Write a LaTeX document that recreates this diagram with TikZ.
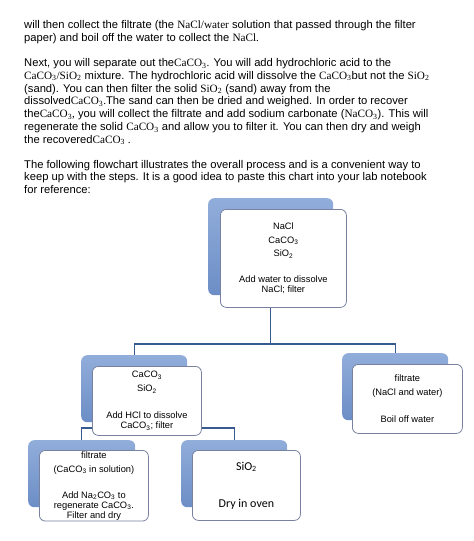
\documentclass[tikz,border=0pt]{standalone}
\usepackage{fontspec}
\setmainfont{Liberation Sans}
\newfontfamily\chemfont{Liberation Serif}
\newfontfamily\calfont{Carlito}
\usetikzlibrary{positioning,backgrounds}
\newcommand{\chm}[1]{{\chemfont #1}}

\definecolor{cardtop}{RGB}{145,173,218}
\definecolor{cardbot}{RGB}{108,142,198}
\definecolor{cardline}{RGB}{120,130,160}
\definecolor{linkblue}{RGB}{55,90,145}

\begin{document}
\begin{tikzpicture}[x=1pt,y=-1pt,
    backcard/.style = {rounded corners=6pt, top color=cardtop, bottom color=cardbot,
                       minimum width=106pt, minimum height=67pt, inner sep=0pt, anchor=north west},
    frontcard/.style = {rounded corners=6pt, draw=cardline, fill=white, line width=0.8pt,
                        minimum width=109pt, minimum height=69pt, inner sep=1pt, align=center,
                        font=\fontsize{9.3}{10}\selectfont, anchor=north west},
    link/.style = {draw=linkblue, line width=1.2pt}]
    \useasboundingbox (0,0) rectangle (474,541);

    \node[anchor=north west, align=left, inner sep=0pt,
          font=\fontsize{11.2}{12.8}\selectfont] (intro) at (24,20)
        {will then collect the filtrate (the \chm{NaCl/water} solution that passed through the filter\\
         paper) and boil off the water to collect the \chm{NaCl.}\\[12.5pt]
         Next, you will separate out the\chm{CaCO\textsubscript{3}.} You will add hydrochloric acid to the\\
         \chm{CaCO\textsubscript{3}/SiO\textsubscript{2}} mixture. The hydrochloric acid will dissolve the \chm{CaCO\textsubscript{3}}but not the \chm{SiO\textsubscript{2}}\\
         (sand). You can then filter the solid \chm{SiO\textsubscript{2}} (sand) away from the\\
         dissolved\chm{CaCO\textsubscript{3}.}The sand can then be dried and weighed. In order to recover\\
         the\chm{CaCO\textsubscript{3},} you will collect the filtrate and add sodium carbonate (\chm{NaCO\textsubscript{3}}). This will\\
         regenerate the solid \chm{CaCO\textsubscript{3}} and allow you to filter it. You can then dry and weigh\\
         the recovered\chm{CaCO\textsubscript{3} .}\\[12pt]
         The following flowchart illustrates the overall process and is a convenient way to\\
         keep up with the steps. It is a good idea to paste this chart into your lab notebook\\
         for reference:};

    % back cards
    \node[backcard, minimum width=125pt, minimum height=97pt] (topB) at (208,198) {};
    \node[backcard] (hclB) at (81,355) {};
    \node[backcard] (boilB) at (342,353) {};
    \node[backcard, minimum width=107pt] (naB) at (28,440) {};
    \node[backcard] (sandB) at (181,440) {};

    % front cards
    \node[frontcard, minimum width=126pt, minimum height=98pt] (topF) at ([shift={(12,11)}]topB.north west)
        {NaCl\\[3.5pt] CaCO\textsubscript{3}\\[3.5pt] SiO\textsubscript{2}\\[16pt] Add water to dissolve\\ NaCl; filter};
    \node[frontcard] (hclF) at ([shift={(11,11)}]hclB.north west)
        {CaCO\textsubscript{3}\\[4pt] SiO\textsubscript{2}\\[17pt] Add HCl to dissolve\\ CaCO\textsubscript{3}; filter};
    \node[frontcard, minimum width=110pt] (boilF) at ([shift={(10,11)}]boilB.north west)
        {filtrate\\[4pt] (NaCl and water)\\[17pt] Boil off water};
    \node[frontcard, minimum height=70pt] (naF) at ([shift={(11,10)}]naB.north west)
        {filtrate\\[4pt] (CaCO\textsubscript{3} in solution)\\[16pt] Add Na\textsubscript{2}CO\textsubscript{3} to\\ regenerate CaCO\textsubscript{3}.\\ Filter and dry};
    \node[frontcard, minimum width=108pt, minimum height=70pt, font=\calfont\fontsize{12}{13}\selectfont] (sandF) at ([shift={(11,10)}]sandB.north west)
        {SiO\textsubscript{2}\\[24pt] Dry in oven};

    % connectors
    \begin{pgfonlayer}{background}
        \coordinate (fork1) at (topB.south |- 0,344);
        \coordinate (fork2) at (hclB.south |- 0,428);
        \draw[link] (topB.south) -- (fork1) -| (hclB.north);
        \draw[link] (fork1) -| (boilB.north);
        \draw[link] (hclB.south) -- (fork2) -| (naB.north);
        \draw[link] (fork2) -| (sandB.north);
    \end{pgfonlayer}
\end{tikzpicture}
\end{document}
